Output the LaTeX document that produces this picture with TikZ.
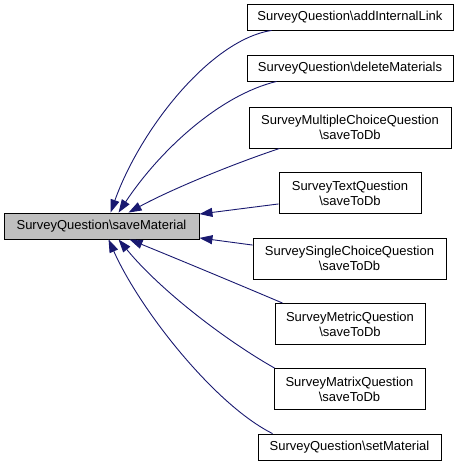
\documentclass[tikz,border=0pt]{standalone}
\usepackage{fontspec}
\setmainfont{Liberation Sans}
\usetikzlibrary{arrows.meta}
\definecolor{edgeblue}{HTML}{191970}
\definecolor{maingray}{HTML}{BFBFBF}
\begin{document}
\begin{tikzpicture}[x=1pt,y=-1pt,
  box/.style={draw=black,line width=0.9pt,fill=white,inner sep=0pt,align=center,
    font=\fontsize{13}{15}\selectfont},
  mainbox/.style={box,fill=maingray},
  edge/.style={draw=edgeblue,line width=0.9pt,-{Triangle[length=13pt,width=9pt]}}]
\useasboundingbox (0,0) rectangle (459,467);
\node[mainbox,minimum width=195pt,minimum height=26pt] (main) at (101.5,226) {SurveyQuestion\textbackslash saveMaterial};
\node[box,minimum width=206pt,minimum height=26pt] (a1) at (350,17) {SurveyQuestion\textbackslash addInternalLink};
\node[box,minimum width=206pt,minimum height=26pt] (a2) at (350,68) {SurveyQuestion\textbackslash deleteMaterials};
\node[box,minimum width=202pt,minimum height=41pt] (a3) at (350,127.5) {SurveyMultipleChoiceQuestion\\\textbackslash saveToDb};
\node[box,minimum width=142pt,minimum height=41pt] (a4) at (350,193) {SurveyTextQuestion\\\textbackslash saveToDb};
\node[box,minimum width=193pt,minimum height=41pt] (a5) at (349.5,258.5) {SurveySingleChoiceQuestion\\\textbackslash saveToDb};
\node[box,minimum width=150pt,minimum height=41pt] (a6) at (350,324) {SurveyMetricQuestion\\\textbackslash saveToDb};
\node[box,minimum width=151pt,minimum height=41pt] (a7) at (349.5,389) {SurveyMatrixQuestion\\\textbackslash saveToDb};
\node[box,minimum width=183pt,minimum height=26pt] (a8) at (349.5,447) {SurveyQuestion\textbackslash setMaterial};
\draw[edge] ([xshift=25pt]a1.south west) .. controls (210,40) and (140,130) .. ([xshift=107pt]main.north west);
\draw[edge] ([xshift=30pt]a2.south west) .. controls (220,95) and (160,150) .. ([xshift=115pt]main.north west);
\draw[edge] ([xshift=31pt]a3.south west) .. controls (230,165) and (170,190) .. ([xshift=125pt]main.north west);
\draw[edge] ([yshift=10pt]a4.south west) -- ([yshift=-1.5pt]main.north east);
\draw[edge] ([yshift=-7.5pt]a5.north west) -- ([yshift=1.5pt]main.south east);
\draw[edge] ([xshift=8pt]a6.north west) .. controls (240,285) and (180,260) .. ([xshift=126pt]main.south west);
\draw[edge] ([xshift=1pt]a7.north west) .. controls (225,340) and (160,290) .. ([xshift=115pt]main.south west);
\draw[edge] ([xshift=15pt]a8.north west) .. controls (215,405) and (140,310) .. ([xshift=105pt]main.south west);
\end{tikzpicture}
\end{document}
